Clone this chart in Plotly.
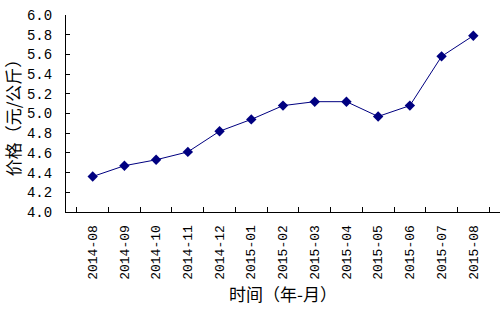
import plotly.graph_objects as go

months = ["2014-08", "2014-09", "2014-10", "2014-11", "2014-12", "2015-01", "2015-02",
          "2015-03", "2015-04", "2015-05", "2015-06", "2015-07", "2015-08"]
prices = [4.36, 4.47, 4.53, 4.61, 4.82, 4.94, 5.08, 5.12, 5.12, 4.97, 5.08, 5.58, 5.79]
y_ticks = [4.0, 4.2, 4.4, 4.6, 4.8, 5.0, 5.2, 5.4, 5.6, 5.8, 6.0]
y_ticktext = [f"{v:.1f}" for v in y_ticks]

fig = go.Figure(go.Scatter(
    x=months, y=prices, mode="lines+markers",
    line=dict(color="#000080", width=1),
    marker=dict(symbol="diamond", size=8, color="#000080"),
))

mono = "Liberation Mono, DejaVu Sans Mono, monospace"

fig.update_layout(
    width=503, height=310,
    margin=dict(l=66, r=3, t=15, b=98),
    paper_bgcolor="white", plot_bgcolor="white",
    showlegend=False,
    xaxis=dict(
        type="category", tickangle=-90, tickfont=dict(family=mono, size=13, color="#000000"),
        showline=True, linecolor="black", linewidth=1,
        ticks="inside", ticklen=5, tickcolor="black", tickson="boundaries",
        showgrid=False, zeroline=False, ticklabelstandoff=7,
        title=dict(text="时间（年-月）", font=dict(family="Noto Sans CJK SC", size=17, color="#000000"), standoff=10),
    ),
    yaxis=dict(
        range=[4.0, 6.0], tickvals=y_ticks, ticktext=y_ticktext,
        tickfont=dict(family=mono, size=14, color="#000000"),
        showline=True, linecolor="black", linewidth=1,
        ticks="inside", ticklen=4, tickcolor="black",
        showgrid=False, zeroline=False, ticklabelstandoff=10,
        title=dict(text="价格（元/公斤）", font=dict(family="Noto Sans CJK SC", size=17, color="#000000"), standoff=8),
    ),
)

fig.write_html("out.html")
